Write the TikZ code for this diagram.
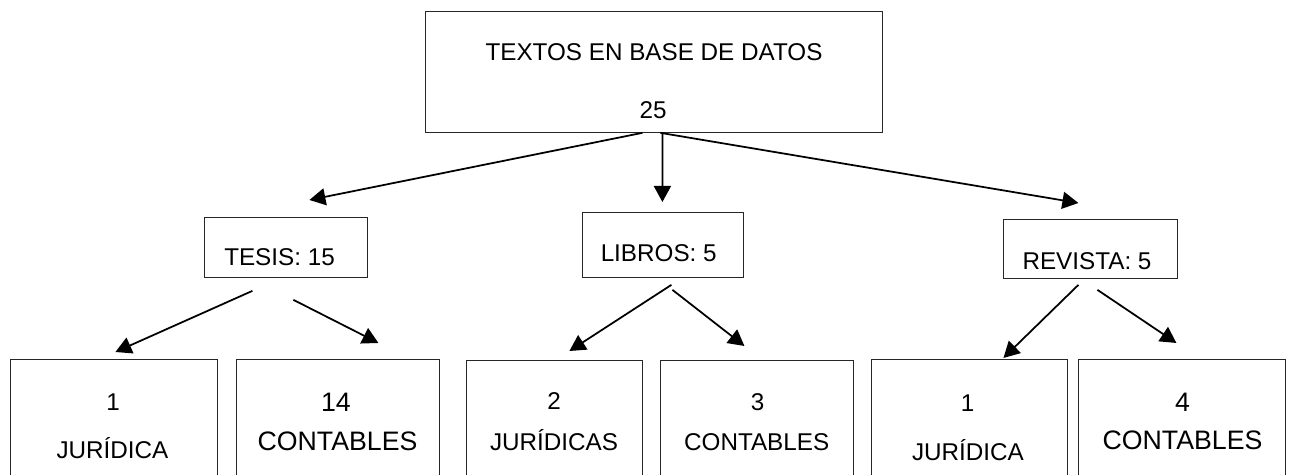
\documentclass[tikz,border=0pt]{standalone}
\usepackage{fontspec}
\setmainfont{Liberation Sans}
\usetikzlibrary{arrows.meta}
\begin{document}
\begin{tikzpicture}[x=.02cm,y=-.02cm,
  caja/.style={draw=black!85, line width=.5pt, inner sep=0, anchor=north west},
  txt/.style={anchor=base, inner sep=0, font=\fontsize{13.8}{16}\selectfont},
  txtg/.style={anchor=base, inner sep=0, font=\fontsize{15.2}{18}\selectfont},
  flecha/.style={-{Triangle[length=.32cm,width=.34cm]}, line width=1pt}]
\clip (0,0) rectangle (1289,475);
% cajas
\path (425,11) node[caja, minimum width=9.14cm, minimum height=2.42cm] (base) {}
(204,217) node[caja, minimum width=3.26cm, minimum height=1.2cm] (tesis) {}
(582,212) node[caja, minimum width=3.22cm, minimum height=1.3cm] (libros) {}
(1003,219) node[caja, minimum width=3.48cm, minimum height=1.18cm] (revista) {}
(10,359) node[caja, minimum width=4.14cm, minimum height=2.72cm] (tj) {}
(236,359) node[caja, minimum width=4.06cm, minimum height=2.72cm] (tc) {}
(466,360) node[caja, minimum width=3.52cm, minimum height=2.72cm] (lj) {}
(660,360) node[caja, minimum width=3.86cm, minimum height=2.72cm] (lc) {}
(871,359) node[caja, minimum width=3.92cm, minimum height=2.72cm] (rj) {}
(1078,359) node[caja, minimum width=4.14cm, minimum height=2.72cm] (rc) {};
% textos
\path (654,60.5) node[txt] (baseT) {TEXTOS EN BASE DE DATOS} (653,118.5) node[txt] (baseN) {25}
(279.5,266) node[txt] (tesisT) {TESIS: 15} (658.7,262) node[txt] (librosT) {LIBROS: 5} (1087,270) node[txt] (revistaT) {REVISTA: 5}
(113,411) node[txt] (tjN) {1} (112.5,458.5) node[txt] (tjT) {JURÍDICA}
(336,411.3) node[txtg] (tcN) {14} (337.5,450.3) node[txtg] (tcT) {CONTABLES}
(554,410) node[txt] (ljN) {2} (554,451) node[txt] (ljT) {JURÍDICAS}
(757.5,410.5) node[txt] (lcN) {3} (756.7,451) node[txt] (lcT) {CONTABLES}
(967.5,411.5) node[txt] (rjN) {1} (968,461) node[txt] (rjT) {JURÍDICA}
(1182.5,412) node[txtg] (rcN) {4} (1182.5,450) node[txtg] (rcT) {CONTABLES};
% flechas
\foreach \a/\px/\py/\b/\qx/\qy in {base/-11.5/0/tesis/23.5/-17, base/8.5/0/libros/-.5/-10, base/6.5/0/revista/-12/-16,
  tesis/-33.5/13/tj/1.5/-7, tesis/7.5/22/tc/40.5/-16, libros/8.5/7/lj/15/-9, libros/9.5/12/lc/-12.5/-14,
  revista/-12/6/rj/34/-1, revista/7/11/rc/-5.5/-16}
  \draw[flecha] ([shift={(\px,\py)}]\a.south) -- ([shift={(\qx,\qy)}]\b.north);
\end{tikzpicture}
\end{document}
